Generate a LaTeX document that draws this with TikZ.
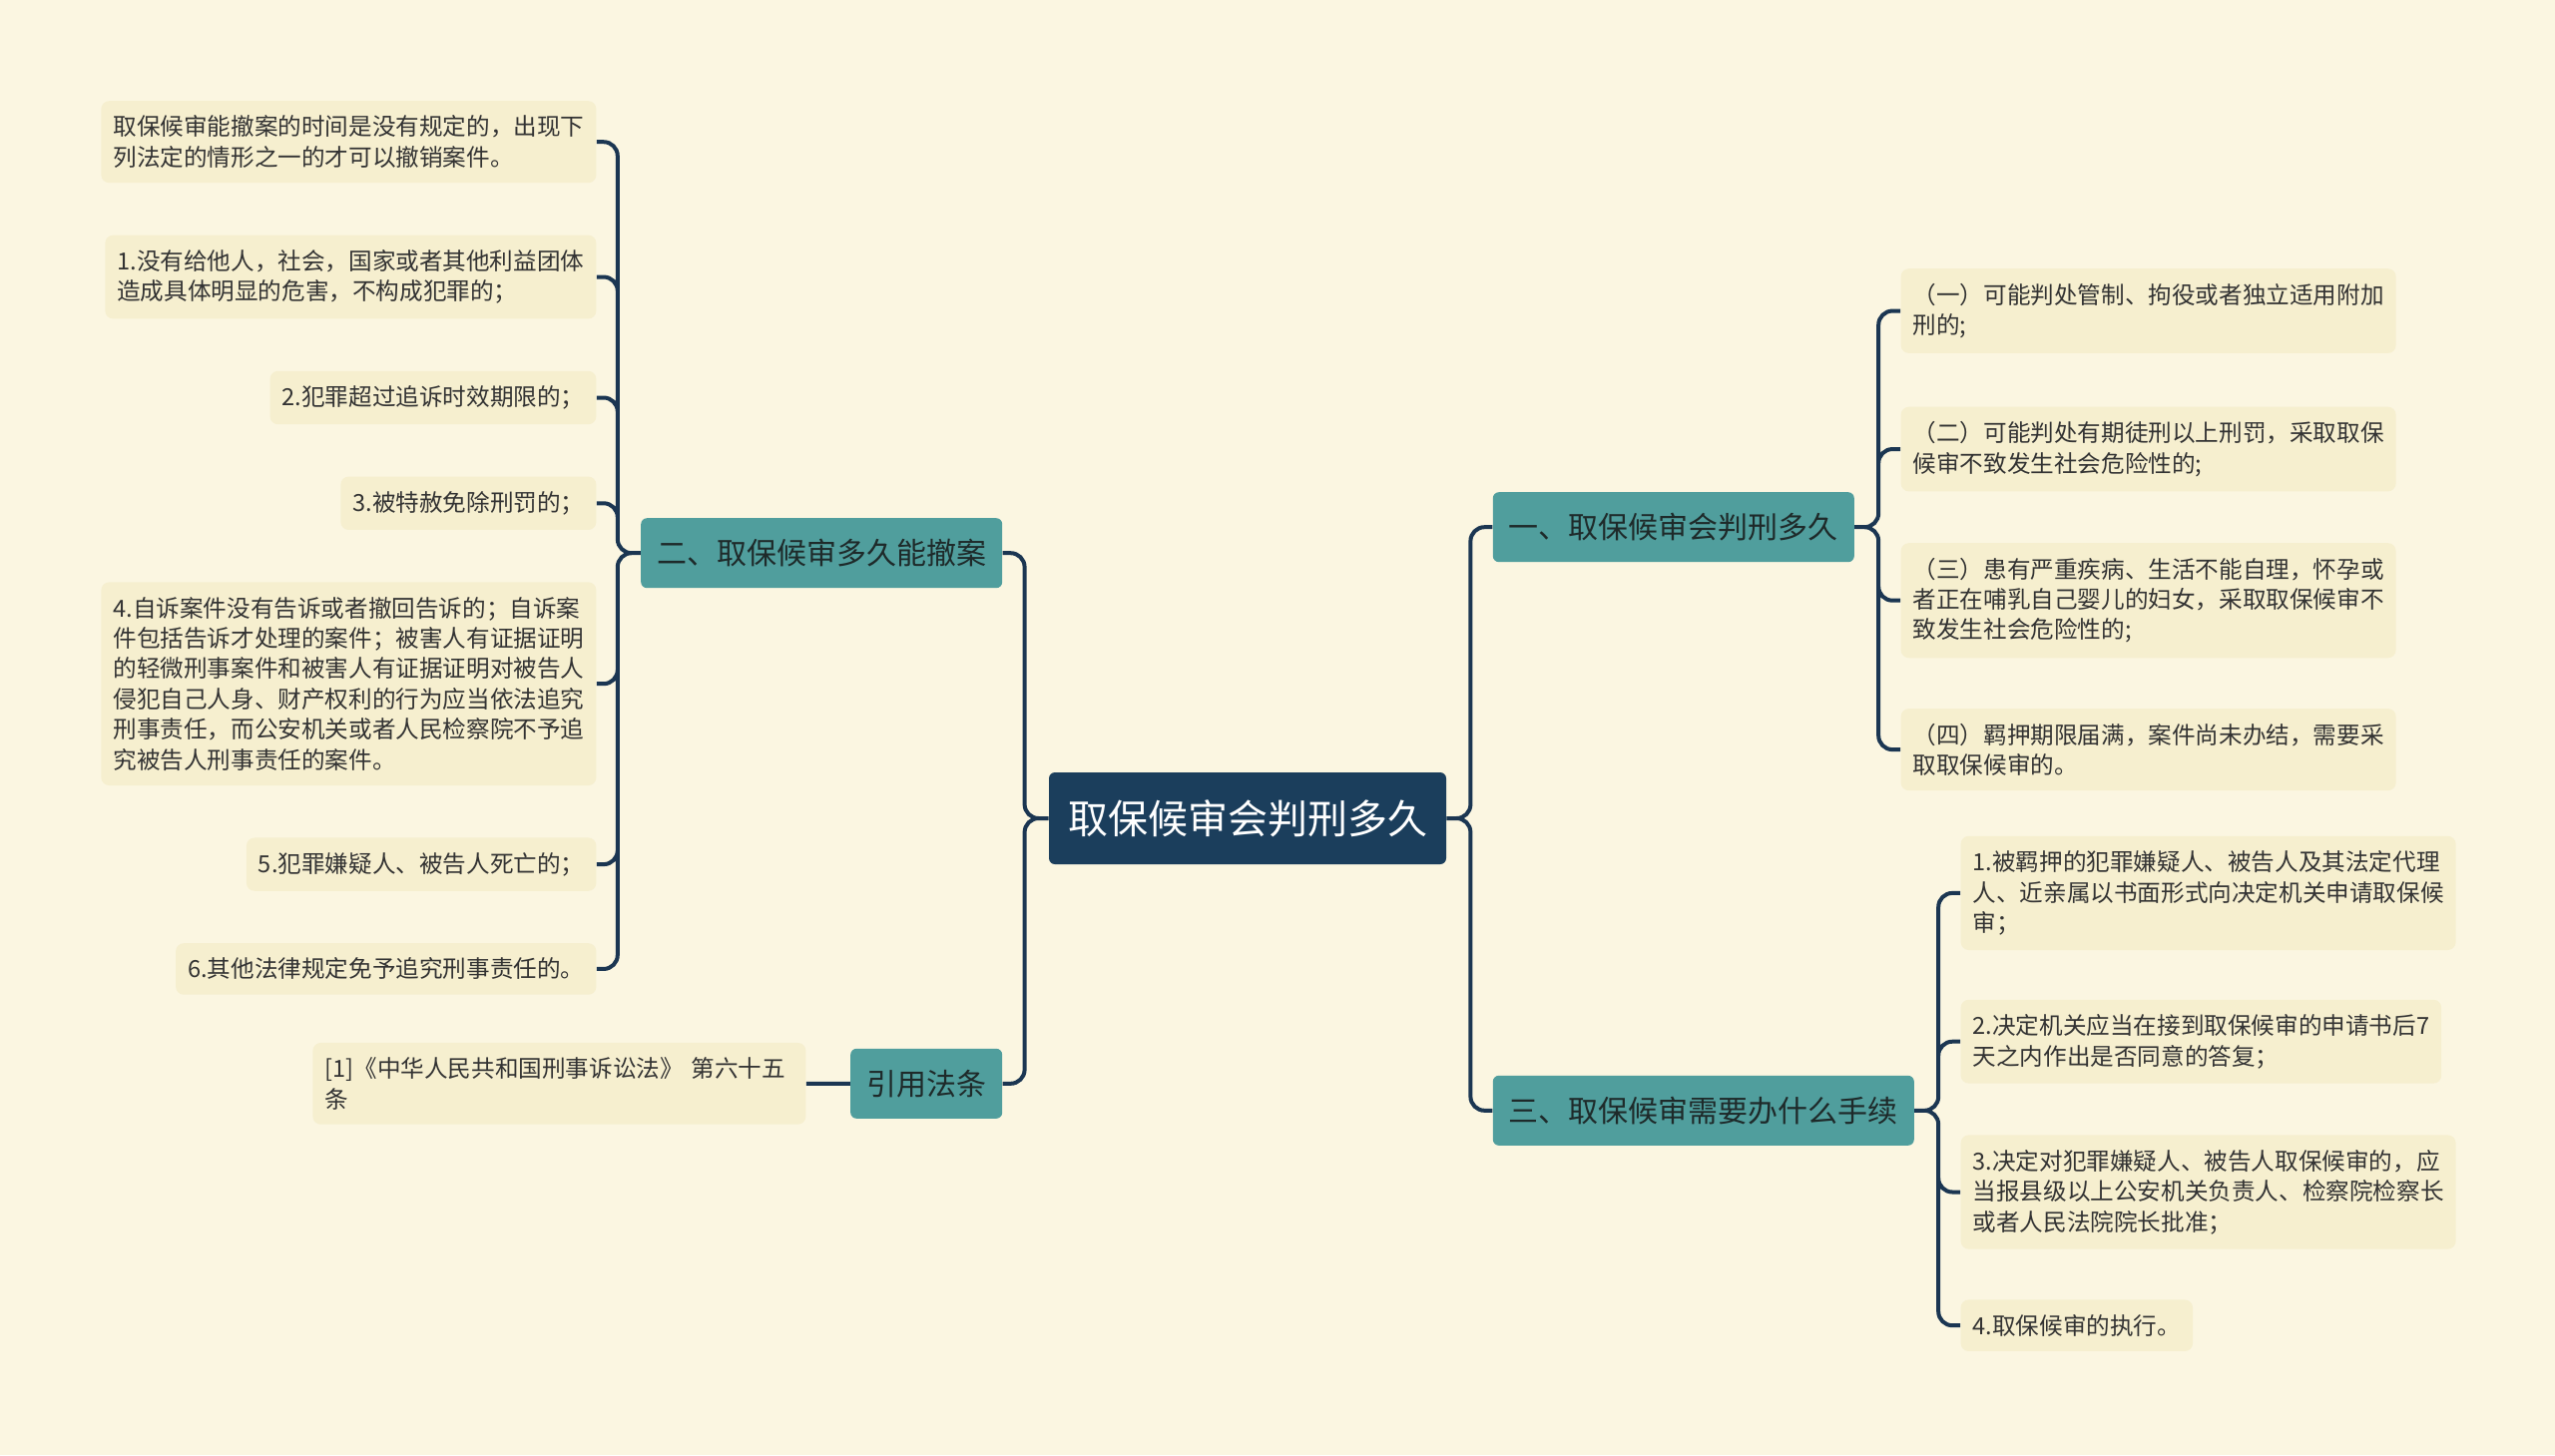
\documentclass[tikz,border=0pt]{standalone}
\usepackage{fontspec}
\setmainfont{Noto Sans CJK SC}
\usepackage{tikz}
\usetikzlibrary{positioning}

\definecolor{paper}{RGB}{251,246,225}
\definecolor{leafbg}{RGB}{246,239,207}
\definecolor{leaftext}{RGB}{51,51,51}
\definecolor{branchbg}{RGB}{80,158,157}
\definecolor{branchtext}{RGB}{30,42,42}
\definecolor{rootbg}{RGB}{27,62,92}
\definecolor{linkcol}{RGB}{27,54,82}

\begin{document}
\begin{tikzpicture}
 [x=0.5pt, y=-0.5pt,
  root node/.style={rectangle, rounded corners=3pt, fill=rootbg, text=white, font=\fontsize{20}{24}\selectfont, inner xsep=9.5pt, minimum height=46pt},
  branch node/.style={rectangle, rounded corners=3pt, fill=branchbg, text=branchtext, font=\fontsize{15}{18}\selectfont, inner xsep=8pt, minimum height=35pt},
  leaf node/.style={rectangle, rounded corners=4pt, fill=leafbg, text=leaftext, font=\fontsize{11.8}{15.2}\selectfont, align=left, inner xsep=6pt, inner ysep=7.4pt},
  link/.style={draw=linkcol, line width=2pt, rounded corners=7pt}]

\fill[paper] (0,0) rectangle (2560,1458);

\node[root node] (root) at (1250,820) {取保候审会判刑多久};

  \node[branch node] (b1) [above right=105pt and 23pt of root.north east] {一、取保候审会判刑多久};
  \node[branch node] (b3) [below right=105.5pt and 23pt of root.south east] {三、取保候审需要办什么手续};
  \node[branch node] (b2) [above left=92pt and 23pt of root.north west] {二、取保候审多久能撤案};
  \node[branch node] (b4) [below left=92pt and 23pt of root.south west] {引用法条};

% left leaves
\node[leaf node] (l0) [above left=209pt and 22pt of b2.north west, anchor=north east] {取保候审能撤案的时间是没有规定的，出现下\\列法定的情形之一的才可以撤销案件。};
 \node[leaf node] (l1) [below=25.8pt of l0.south east, anchor=north east] {1.没有给他人，社会，国家或者其他利益团体\\造成具体明显的危害，不构成犯罪的；};
 \node[leaf node] (l2) [below=25.8pt of l1.south east, anchor=north east] {2.犯罪超过追诉时效期限的；};
 \node[leaf node] (l3) [below=25.8pt of l2.south east, anchor=north east] {3.被特赦免除刑罚的；};
 \node[leaf node] (l4) [below=25.8pt of l3.south east, anchor=north east] {4.自诉案件没有告诉或者撤回告诉的；自诉案\\件包括告诉才处理的案件；被害人有证据证明\\的轻微刑事案件和被害人有证据证明对被告人\\侵犯自己人身、财产权利的行为应当依法追究\\刑事责任，而公安机关或者人民检察院不予追\\究被告人刑事责任的案件。};
 \node[leaf node] (l5) [below=25.8pt of l4.south east, anchor=north east] {5.犯罪嫌疑人、被告人死亡的；};
 \node[leaf node] (l6) [below=25.8pt of l5.south east, anchor=north east] {6.其他法律规定免予追究刑事责任的。};

\node[leaf node, text width=235pt] (q1) [left=22pt of b4] {[1]《中华人民共和国刑事诉讼法》 第六十五\\条};

% right leaves
\node[leaf node] (r0) [above right=112pt and 23pt of b1.north east, anchor=north west] {（一）可能判处管制、拘役或者独立适用附加\\刑的;};
 \node[leaf node] (r1) [below=26.5pt of r0.south west, anchor=north west] {（二）可能判处有期徒刑以上刑罚，采取取保\\候审不致发生社会危险性的;};
 \node[leaf node] (r2) [below=25.5pt of r1.south west, anchor=north west] {（三）患有严重疾病、生活不能自理，怀孕或\\者正在哺乳自己婴儿的妇女，采取取保候审不\\致发生社会危险性的;};
 \node[leaf node] (r3) [below=25pt of r2.south west, anchor=north west] {（四）羁押期限届满，案件尚未办结，需要采\\取取保候审的。};

\node[leaf node] (s0) [above right=120pt and 23pt of b3.north east, anchor=north west] {1.被羁押的犯罪嫌疑人、被告人及其法定代理\\人、近亲属以书面形式向决定机关申请取保候\\审；};
 \node[leaf node] (s1) [below=24.5pt of s0.south west, anchor=north west] {2.决定机关应当在接到取保候审的申请书后7\\天之内作出是否同意的答复；};
 \node[leaf node] (s2) [below=25.5pt of s1.south west, anchor=north west] {3.决定对犯罪嫌疑人、被告人取保候审的，应\\当报县级以上公安机关负责人、检察院检察长\\或者人民法院院长批准；};
 \node[leaf node] (s3) [below=25pt of s2.south west, anchor=north west] {4.取保候审的执行。};

\draw[link]
  (root.east) -- ++(12pt,0) |- (b1.west)
  (root.east) -- ++(12pt,0) |- (b3.west)
  (root.west) -- ++(-12pt,0) |- (b2.east)
  (root.west) -- ++(-12pt,0) |- (b4.east)

  (b1.east) -- ++(12pt,0) |- (r0.west)
  (b1.east) -- ++(12pt,0) |- (r1.west)
  (b1.east) -- ++(12pt,0) |- (r2.west)
  (b1.east) -- ++(12pt,0) |- (r3.west)

  (b3.east) -- ++(12pt,0) |- (s0.west)
  (b3.east) -- ++(12pt,0) |- (s1.west)
  (b3.east) -- ++(12pt,0) |- (s2.west)
  (b3.east) -- ++(12pt,0) |- (s3.west)

  (b2.west) -- ++(-11.5pt,0) |- (l0.east)
  (b2.west) -- ++(-11.5pt,0) |- (l1.east)
  (b2.west) -- ++(-11.5pt,0) |- (l2.east)
  (b2.west) -- ++(-11.5pt,0) |- (l3.east)
  (b2.west) -- ++(-11.5pt,0) |- (l4.east)
  (b2.west) -- ++(-11.5pt,0) |- (l5.east)
  (b2.west) -- ++(-11.5pt,0) |- (l6.east)

  (b4.west) -- (q1.east);

\end{tikzpicture}
\end{document}
